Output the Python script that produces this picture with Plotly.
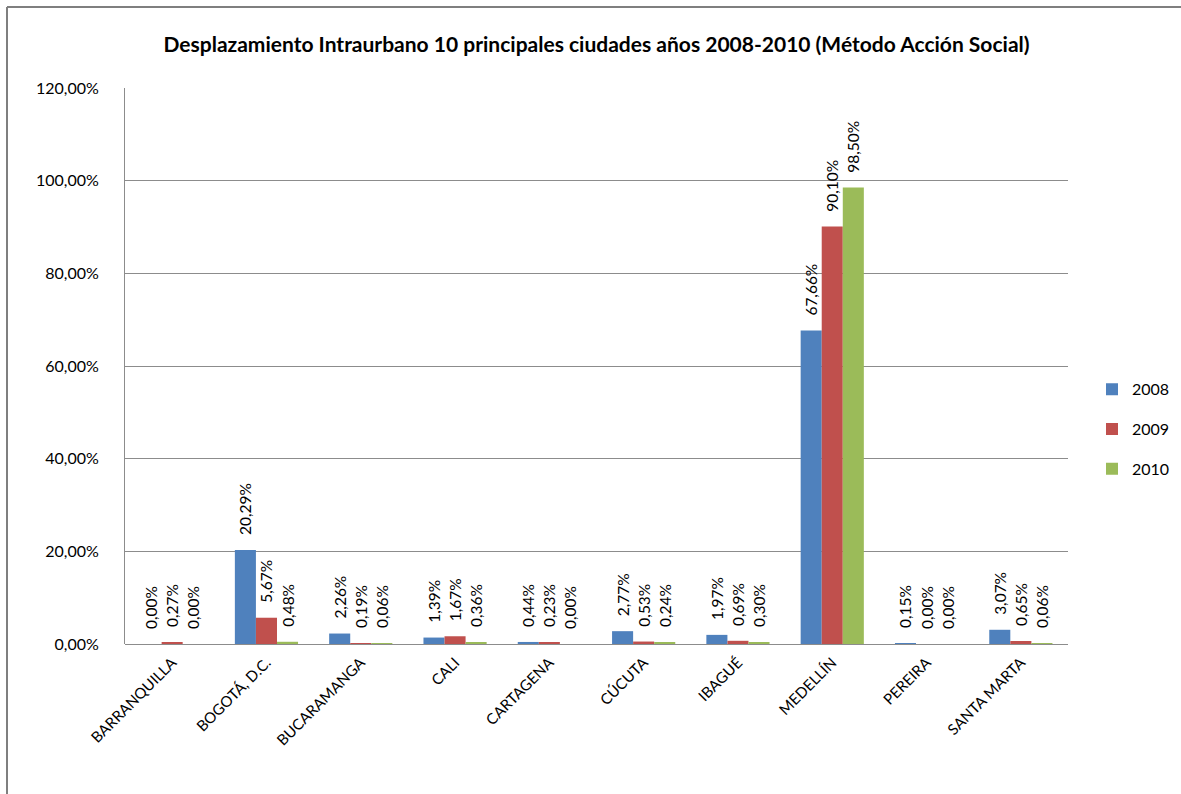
import plotly.graph_objects as go

cities = ["BARRANQUILLA", "BOGOTÁ, D.C.", "BUCARAMANGA", "CALI", "CARTAGENA",
          "CÚCUTA", "IBAGUÉ", "MEDELLÍN", "PEREIRA", "SANTA MARTA"]
v2008 = [0.0000, 0.2029, 0.0226, 0.0139, 0.0044, 0.0277, 0.0197, 0.6766, 0.0015, 0.0307]
v2009 = [0.0027, 0.0567, 0.0019, 0.0167, 0.0023, 0.0053, 0.0069, 0.9010, 0.0000, 0.0065]
v2010 = [0.0000, 0.0048, 0.0006, 0.0036, 0.0000, 0.0024, 0.0030, 0.9850, 0.0000, 0.0006]
years = ["2008", "2009", "2010"]
colors = ["#4F81BD", "#C0504D", "#9BBB59"]
y_ticks = [0, 0.2, 0.4, 0.6, 0.8, 1.0, 1.2]

FONT = "Lato"
PAD = "\u00a0" * 3  # gap between bar end and its rotated label

fig = go.Figure()
for name, vals, col in zip(years, [v2008, v2009, v2010], colors):
    fig.add_trace(go.Bar(
        x=cities, y=vals, name=name, legendgroup=name,
        marker=dict(color=col, line=dict(width=0)),
        texttemplate=PAD + "%{y:.2%}", textposition="outside", textangle=-90,
        textfont=dict(family=FONT, size=15.5, color="#000000"),
        constraintext="none", cliponaxis=False,
    ))

L, R, T, B = 125, 1068, 88, 644
W, H = 1181, 794
pw, ph = R - L, B - T

def px_x(x):
    return (x - L) / pw

def px_y(y):
    return (B - y) / ph

fig.update_layout(
    width=W, height=H,
    margin=dict(l=L, r=W - R, t=T, b=H - B, pad=0, autoexpand=False),
    paper_bgcolor="white", plot_bgcolor="white",
    separators=", ",
    barmode="group", bargap=0.33, bargroupgap=0,
    font=dict(family=FONT, size=15, color="#000000"),
    title=dict(text="<b>Desplazamiento Intraurbano 10 principales ciudades años 2008-2010 (Método Acción Social)</b>",
               x=0.5, xref="paper", xanchor="center", y=1 - 45 / H, yanchor="middle",
               font=dict(family=FONT, size=21, color="#000000")),
    legend=dict(x=px_x(1092), xanchor="left", y=px_y(389) + 0.03, yanchor="top",
                font=dict(family=FONT, size=16), tracegroupgap=16,
                itemwidth=30, bgcolor="rgba(0,0,0,0)"),
    xaxis=dict(tickangle=-45, showgrid=False, showline=False, ticks="",
               ticklabelstandoff=6,
               tickfont=dict(family=FONT, size=15)),
    yaxis=dict(range=[0, 1.2], tickvals=y_ticks, tickformat=".2%",
               showgrid=True, gridcolor="#8c8c8c", gridwidth=1,
               showline=True, linecolor="#8c8c8c", linewidth=1,
               zeroline=True, zerolinecolor="#8c8c8c", zerolinewidth=1,
               ticks="", ticklabelstandoff=22,
               tickfont=dict(family=FONT, size=16)),
    shapes=[
        dict(type="line", xref="paper", yref="paper", x0=px_x(7), x1=px_x(1181), y0=px_y(7), y1=px_y(7),
             line=dict(color="#7f7f7f", width=2)),
        dict(type="line", xref="paper", yref="paper", x0=px_x(7), x1=px_x(7), y0=px_y(7), y1=px_y(800),
             line=dict(color="#7f7f7f", width=2)),
    ],
)

fig.write_html("out.html", config={"displayModeBar": False},
               post_script="document.body.style.margin='0';document.body.style.overflow='hidden';")
